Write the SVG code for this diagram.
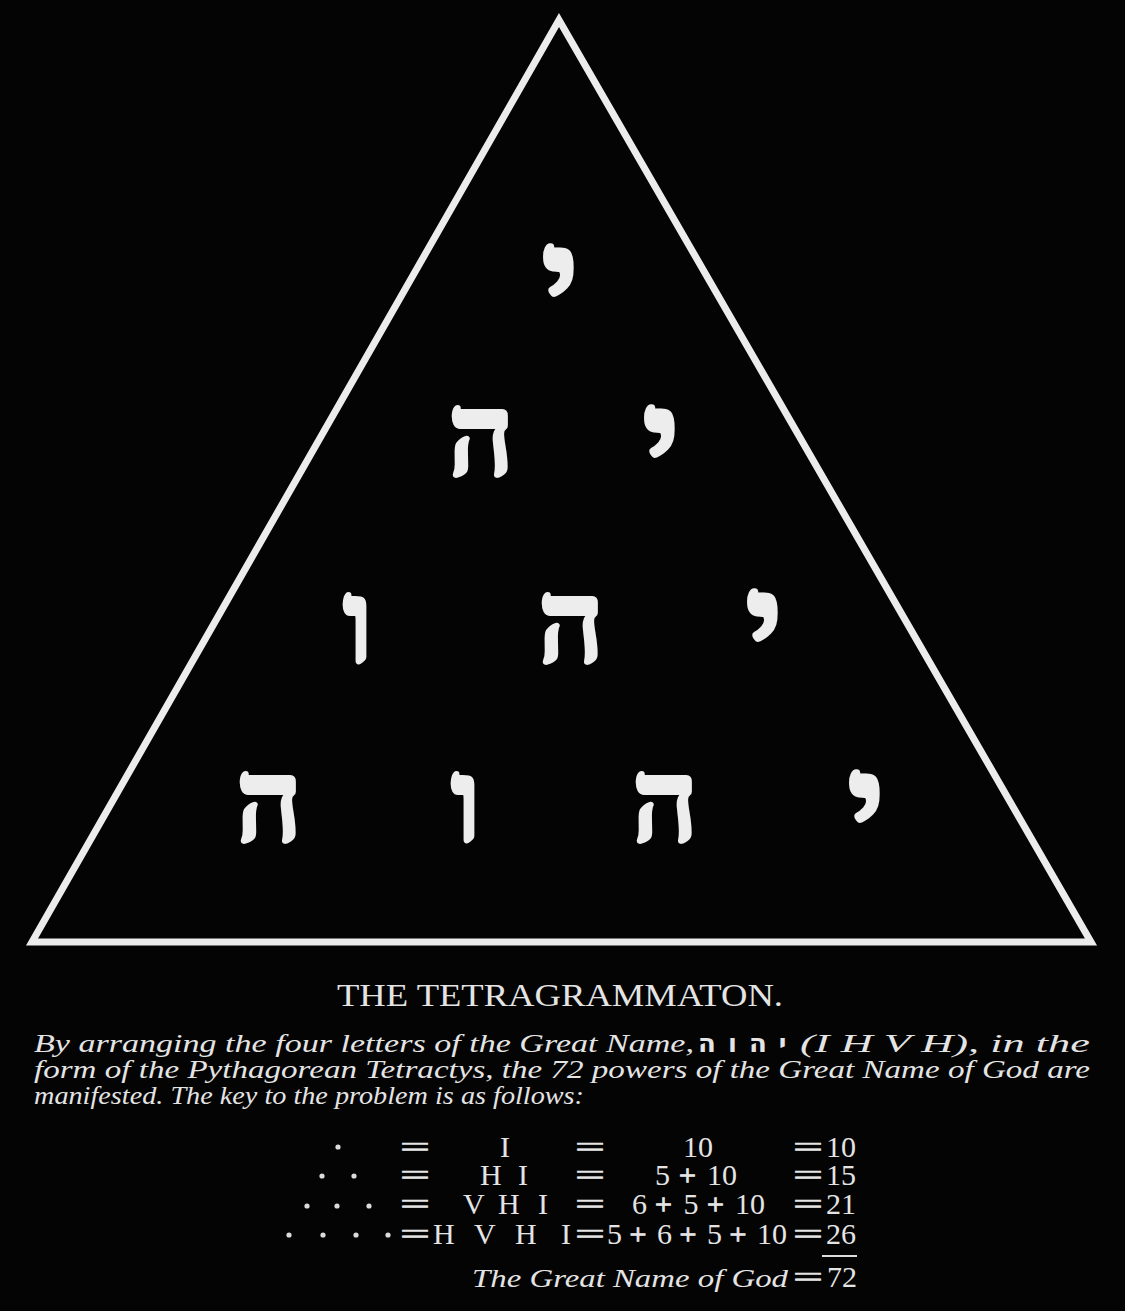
<svg xmlns="http://www.w3.org/2000/svg" width="1125" height="1311" viewBox="0 0 1125 1311">
<style>
.heb{font-family:"Liberation Serif","DejaVu Serif",serif;font-weight:bold;font-size:115px;fill:#ededed;stroke:#ededed;stroke-width:4;stroke-linejoin:round;text-anchor:middle}
.cap{font-family:"Liberation Serif",serif;fill:#e4e4e4}
.it{font-family:"Liberation Serif",serif;font-style:italic;font-size:26px;fill:#e4e4e4}
.tb{font-family:"Liberation Serif",serif;font-size:30px;fill:#e4e4e4}
.pl{stroke:#e4e4e4;stroke-width:1}
.eq{font-family:"Liberation Serif",serif;font-size:30px;fill:#e4e4e4;stroke:#e4e4e4;stroke-width:0.7}
.dot{fill:#dcdcdc}
</style>
<rect width="1125" height="1311" fill="#040404"/>
<g id="triangle">
<polygon points="559,20 32,942 1091,942" fill="none" stroke="#ececec" stroke-width="7" stroke-linejoin="miter"/>
</g>
<g id="letters">
<text class="heb" transform="translate(560,243) scale(1.2)" y="69">י</text>
<text class="heb" x="481" y="475">ה</text>
<text class="heb" transform="translate(661,404) scale(1.2)" y="69">י</text>
<text class="heb" x="358" y="662">ו</text>
<text class="heb" x="571" y="662">ה</text>
<text class="heb" transform="translate(764,588) scale(1.2)" y="69">י</text>
<text class="heb" x="269" y="841">ה</text>
<text class="heb" x="466" y="841">ו</text>
<text class="heb" x="665" y="841">ה</text>
<text class="heb" transform="translate(866,769) scale(1.2)" y="69">י</text>
</g>
<g id="caption">
<text class="cap" x="337" y="1006" font-size="32" textLength="446" lengthAdjust="spacingAndGlyphs">THE TETRAGRAMMATON.</text>
<text class="it" x="34" y="1052" textLength="660" lengthAdjust="spacingAndGlyphs">By arranging the four letters of the Great Name,</text>
<text x="743" y="1052" font-family="DejaVu Sans, sans-serif" font-weight="bold" font-size="26" letter-spacing="1.5" fill="#e4e4e4" text-anchor="middle">י ה ו ה</text>
<text class="it" x="800" y="1052" textLength="290" lengthAdjust="spacingAndGlyphs">(I H V H), in the</text>
<text class="it" x="34" y="1078" textLength="1056" lengthAdjust="spacingAndGlyphs">form of the Pythagorean Tetractys, the 72 powers of the Great Name of God are</text>
<text class="it" x="34" y="1104" textLength="550" lengthAdjust="spacingAndGlyphs">manifested. The key to the problem is as follows:</text>
</g>
<g id="key">
<circle class="dot" cx="338" cy="1147" r="2.6"/>
<circle class="dot" cx="322" cy="1176" r="2.6"/>
<circle class="dot" cx="354" cy="1176" r="2.6"/>
<circle class="dot" cx="307" cy="1206" r="2.6"/>
<circle class="dot" cx="337" cy="1206" r="2.6"/>
<circle class="dot" cx="369" cy="1206" r="2.6"/>
<circle class="dot" cx="289" cy="1235" r="2.6"/>
<circle class="dot" cx="323" cy="1235" r="2.6"/>
<circle class="dot" cx="356" cy="1235" r="2.6"/>
<circle class="dot" cx="388" cy="1235" r="2.6"/>

<text class="eq" x="400" y="1157" textLength="30" lengthAdjust="spacingAndGlyphs">=</text>
<text class="tb" x="500" y="1157">I</text>
<text class="eq" x="575" y="1157" textLength="30" lengthAdjust="spacingAndGlyphs">=</text>
<text class="tb" x="683" y="1157">10</text>
<text class="eq" x="793" y="1157" textLength="30" lengthAdjust="spacingAndGlyphs">=</text>
<text class="tb" x="826" y="1157">10</text>

<text class="eq" x="400" y="1185" textLength="30" lengthAdjust="spacingAndGlyphs">=</text>
<text class="tb" y="1185"><tspan x="480">H </tspan><tspan x="518">I</tspan></text>
<text class="eq" x="575" y="1185" textLength="30" lengthAdjust="spacingAndGlyphs">=</text>
<text class="tb" y="1185"><tspan x="655">5</tspan><tspan class="pl" x="679">+</tspan><tspan x="707">10</tspan></text>
<text class="eq" x="793" y="1185" textLength="30" lengthAdjust="spacingAndGlyphs">=</text>
<text class="tb" x="826" y="1185">15</text>

<text class="eq" x="400" y="1214" textLength="30" lengthAdjust="spacingAndGlyphs">=</text>
<text class="tb" y="1214"><tspan x="463">V </tspan><tspan x="498">H </tspan><tspan x="538">I</tspan></text>
<text class="eq" x="575" y="1214" textLength="30" lengthAdjust="spacingAndGlyphs">=</text>
<text class="tb" y="1214"><tspan x="632">6</tspan><tspan class="pl" x="655">+</tspan><tspan x="683.5">5</tspan><tspan class="pl" x="707">+</tspan><tspan x="735">10</tspan></text>
<text class="eq" x="793" y="1214" textLength="30" lengthAdjust="spacingAndGlyphs">=</text>
<text class="tb" x="826" y="1214">21</text>

<text class="eq" x="400" y="1244" textLength="30" lengthAdjust="spacingAndGlyphs">=</text>
<text class="tb" y="1244"><tspan x="433">H </tspan><tspan x="474">V </tspan><tspan x="515">H </tspan><tspan x="561">I</tspan></text>
<text class="eq" x="575" y="1244" textLength="30" lengthAdjust="spacingAndGlyphs">=</text>
<text class="tb" y="1244"><tspan x="607">5</tspan><tspan class="pl" x="629.5">+</tspan><tspan x="657">6</tspan><tspan class="pl" x="679.5">+</tspan><tspan x="707">5</tspan><tspan class="pl" x="729.5">+</tspan><tspan x="757">10</tspan></text>
<text class="eq" x="793" y="1244" textLength="30" lengthAdjust="spacingAndGlyphs">=</text>
<text class="tb" x="826" y="1244">26</text>

<line x1="822" y1="1256" x2="857" y2="1256" stroke="#dcdcdc" stroke-width="2"/>
<text class="it" x="472" y="1287" font-size="29" textLength="316" lengthAdjust="spacingAndGlyphs">The Great Name of God</text>
<text class="eq" x="793" y="1287" textLength="30" lengthAdjust="spacingAndGlyphs">=</text>
<text class="tb" x="827" y="1287">72</text>
</g>
</svg>
